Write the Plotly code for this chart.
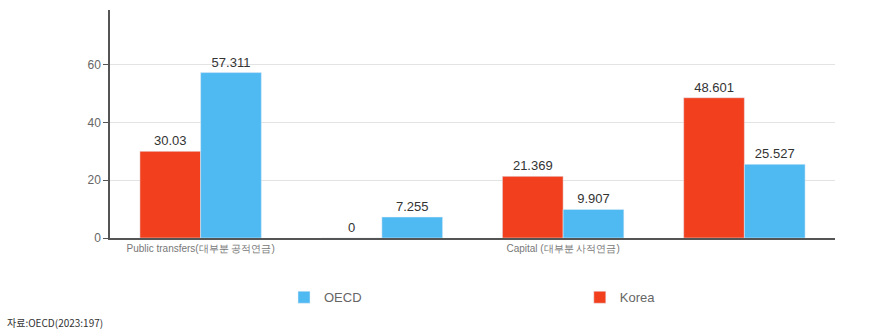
import plotly.graph_objects as go

categories = ["Public transfers(대부분 공적연금)", "Private transfers", "Capital (대부분 사적연금)", "Work"]
shown_ticks = ["Public transfers(대부분 공적연금)", "Capital (대부분 사적연금)"]
korea = [30.03, 0, 21.369, 48.601]
oecd = [57.311, 7.255, 9.907, 25.527]
korea_labels = ["30.03", "0", "21.369", "48.601"]
oecd_labels = ["57.311", "7.255", "9.907", "25.527"]
y_ticks = [0, 20, 40, 60]

RED = "#f2401f"
BLUE = "#4fb9f2"

fig = go.Figure()
fig.add_trace(go.Bar(
    x=categories, y=korea, name="Korea", marker_color=RED,
    text=korea_labels, textposition="outside", cliponaxis=False,
    textfont=dict(family="Liberation Sans", size=13, color="#333333"),
    legend="legend2", showlegend=True,
))
fig.add_trace(go.Bar(
    x=categories, y=oecd, name="OECD", marker_color=BLUE,
    text=oecd_labels, textposition="outside", cliponaxis=False,
    textfont=dict(family="Liberation Sans", size=13, color="#333333"),
    legend="legend", showlegend=True,
))

fig.update_layout(
    width=875, height=333,
    margin=dict(l=110, r=40, t=10, b=95),
    paper_bgcolor="white", plot_bgcolor="white",
    showlegend=True,
    barmode="group", bargap=0.33, bargroupgap=0,
    font=dict(family="Liberation Sans", size=12, color="#666666"),
    legend=dict(x=0.24, y=-0.26, xanchor="left", yanchor="middle",
                orientation="h", font=dict(size=13, color="#666666"),
                bgcolor="rgba(0,0,0,0)"),
    legend2=dict(x=0.648, y=-0.26, xanchor="left", yanchor="middle",
                 orientation="h", font=dict(size=13, color="#666666"),
                 bgcolor="rgba(0,0,0,0)"),
    xaxis=dict(
        type="category", tickvals=shown_ticks, ticktext=shown_ticks,
        tickfont=dict(size=10, color="#777777"),
        showline=True, linecolor="#555555", linewidth=2,
        ticks="", showgrid=False,
    ),
    yaxis=dict(
        range=[0, 79], tickvals=y_ticks,
        tickfont=dict(size=12, color="#666666"),
        showline=True, linecolor="#555555", linewidth=1.5,
        ticks="outside", ticklen=5, tickcolor="#555555",
        showgrid=True, gridcolor="#e3e3e3", gridwidth=1,
        zeroline=False,
    ),
)

fig.add_annotation(
    text="자료:OECD(2023:197)", xref="paper", yref="paper",
    x=-0.145, y=-0.37, xanchor="left", yanchor="middle", showarrow=False,
    font=dict(family="Noto Sans CJK KR", size=10, color="#333333"),
)

fig.write_html("out.html")
